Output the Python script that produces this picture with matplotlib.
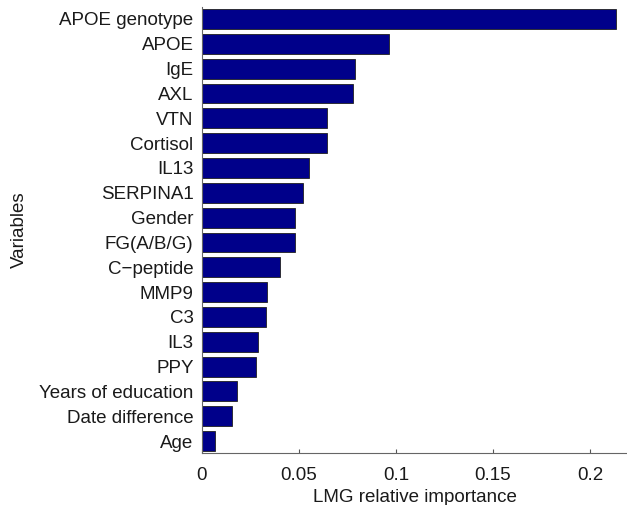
import numpy as np
import matplotlib
matplotlib.use("Agg")
import matplotlib.pyplot as plt

# variables listed top to bottom
variables = ["APOE genotype", "APOE", "IgE", "AXL", "VTN", "Cortisol", "IL13",
             "SERPINA1", "Gender", "FG(A/B/G)", "C\u2212peptide", "MMP9", "C3",
             "IL3", "PPY", "Years of education", "Date difference", "Age"]
importance = [0.2134, 0.0964, 0.0787, 0.0780, 0.0644, 0.0644, 0.0552,
              0.0521, 0.0479, 0.0479, 0.0402, 0.0335, 0.0328,
              0.0289, 0.0277, 0.0179, 0.0156, 0.0067]
xticks = [0, 0.05, 0.1, 0.15, 0.2]
xtick_labels = ["0", "0.05", "0.1", "0.15", "0.2"]

plt.rcParams['font.family'] = ['Liberation Sans', 'DejaVu Sans']
fs = 13.5

fig = plt.figure(figsize=(6.27, 5.05), dpi=100)
ax = fig.add_axes([0.322, 0.102, 0.678, 0.885])

pos = np.arange(len(variables), 0, -1)
ax.barh(pos, importance, height=0.8, color='#00008a', edgecolor='#202020',
        linewidth=0.6)

ax.set_ylim(0.5, len(variables) + 0.5)
ax.set_xlim(0, 0.219)
ax.set_yticks(pos)
ax.set_yticklabels(variables, fontsize=fs, color='#1a1a1a')
ax.set_xticks(xticks)
ax.set_xticklabels(xtick_labels, fontsize=fs, color='#1a1a1a')
ax.tick_params(axis='x', direction='in', length=3, color='#555555', pad=10)
ax.tick_params(axis='y', length=0, pad=6)

for side in ['top', 'right']:
    ax.spines[side].set_visible(False)
for side in ['left', 'bottom']:
    ax.spines[side].set_color('#666666')
    ax.spines[side].set_linewidth(0.8)

ax.set_xlabel('LMG relative importance', fontsize=fs, labelpad=3,
              color='#1a1a1a')
ax.set_ylabel('Variables', fontsize=fs, labelpad=8, color='#1a1a1a')

fig.savefig('out.png', dpi=100)
